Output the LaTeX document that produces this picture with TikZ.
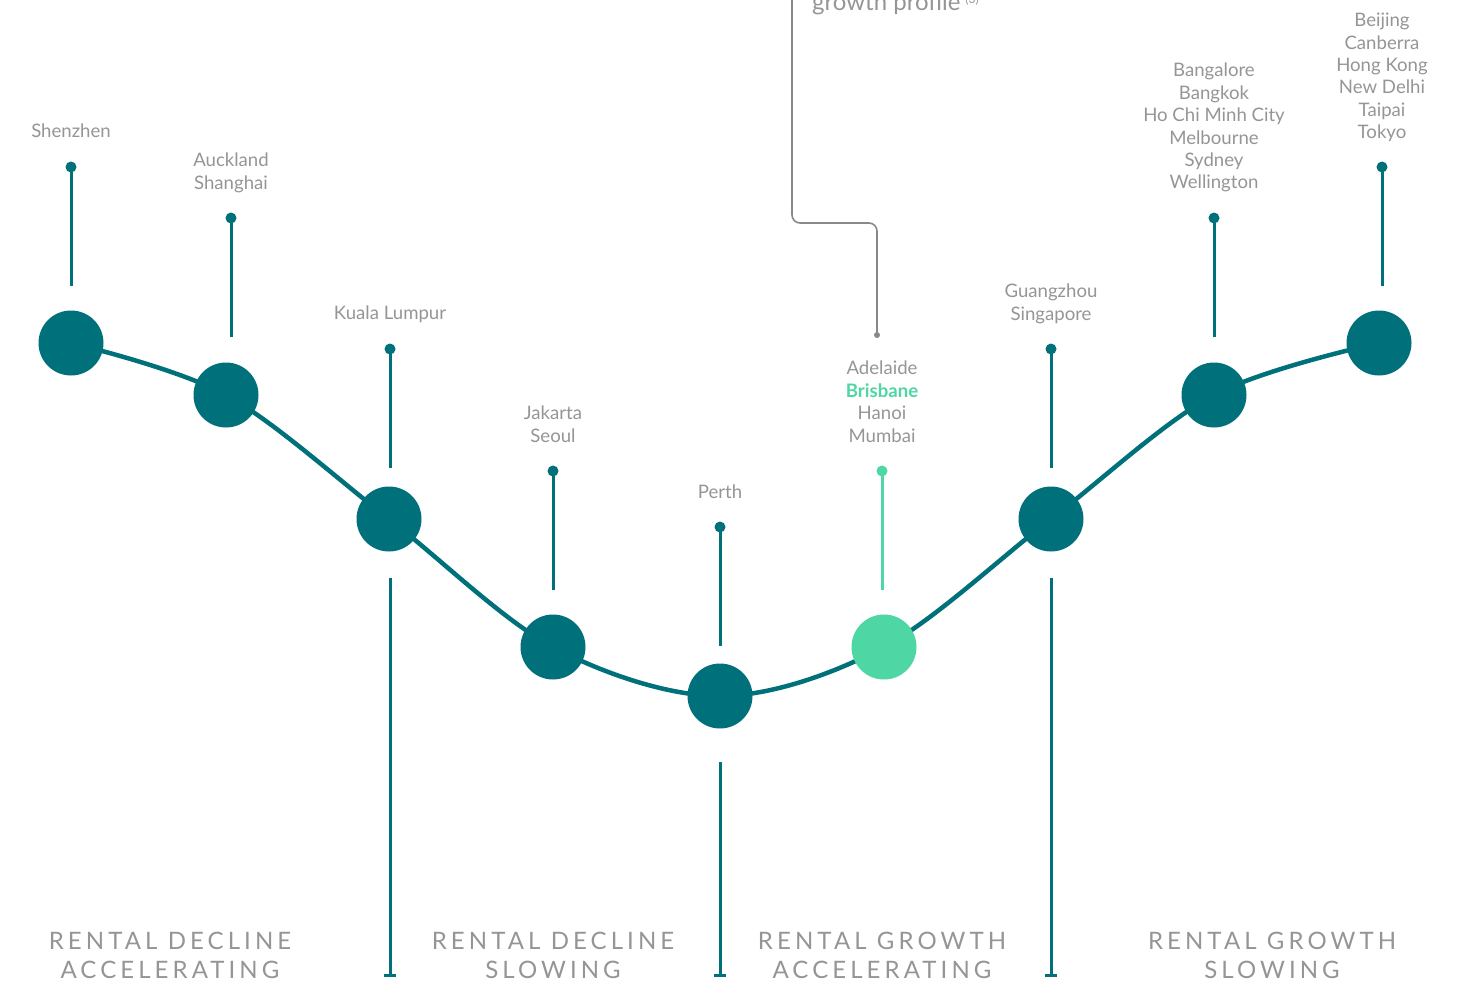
\documentclass[tikz,border=0pt]{standalone}
\usepackage{fontspec}
\setmainfont{Lato}
\definecolor{teal}{HTML}{00707A}
\definecolor{mint}{HTML}{4ED6A5}
\definecolor{txtgray}{HTML}{959595}
\definecolor{leadgray}{HTML}{8C8789}
\begin{document}
\begin{tikzpicture}[x=1pt,y=-1pt,
  bigdot/.style={circle,fill=teal,minimum size=65pt,inner sep=0pt},
  minthub/.style={bigdot,fill=mint},
  pin/.style={circle,fill=teal,minimum size=11pt,inner sep=0pt},
  mintpin/.style={pin,fill=mint},
  stem/.style={teal,line width=3pt},
  mintstem/.style={mint,line width=3pt},
  curve/.style={teal,line width=4.5pt},
  city/.style={anchor=north,inner sep=0pt,align=center,text=txtgray,
    font={\fontsize{18.6}{22.4}\selectfont}},
  phase/.style={anchor=north,inner sep=0pt,align=center,text=txtgray,
    font={\addfontfeature{LetterSpace=17}\fontsize{24}{29}\selectfont}},
  leader/.style={leadgray,line width=1.6pt,rounded corners=8pt},
]
\useasboundingbox (0,0) rectangle (1460,983);

% hubs along the clock curve
\coordinate (h1) at (71,343);
\coordinate (h2) at (226,395);
\coordinate (h3) at (389,519);
\coordinate (h4) at (553,647);
\coordinate (h5) at (720,696);
\coordinate (h6) at (884,647);
\coordinate (h7) at (1051,519);
\coordinate (h8) at (1214,395);
\coordinate (h9) at (1379,343);

\draw[curve] plot[smooth,tension=0.55] coordinates {(h1) (h2) (h3) (h4) (h5) (h6) (h7) (h8) (h9)};

\node[bigdot] (c1) at (h1) {};
\node[bigdot] (c2) at (h2) {};
\node[bigdot] (c3) at (h3) {};
\node[bigdot] (c4) at (h4) {};
\node[bigdot] (c5) at (h5) {};
\node[minthub] (c6) at (h6) {};
\node[bigdot] (c7) at (h7) {};
\node[bigdot] (c8) at (h8) {};
\node[bigdot] (c9) at (h9) {};

% pins above the hubs
\node[pin] (p1) at (71,167) {};
\node[pin] (p2) at (231,218) {};
\node[pin] (p3) at (390,349) {};
\node[pin] (p4) at (553,471) {};
\node[pin] (p5) at (720,527) {};
\node[mintpin] (p6) at (882,471) {};
\node[pin] (p7) at (1051,349) {};
\node[pin] (p8) at (1214,218) {};
\node[pin] (p9) at (1382,167) {};

\coordinate (e1) at (71,286);
\coordinate (e2) at (231,337);
\coordinate (e3) at (390,468);
\coordinate (e4) at (553,590);
\coordinate (e5) at (720,646);
\coordinate (e6) at (882,590);
\coordinate (e7) at (1051,468);
\coordinate (e8) at (1214,337);
\coordinate (e9) at (1382,286);

\draw[stem] (p1.center) -- (e1);
\draw[stem] (p2.center) -- (e2);
\draw[stem] (p3.center) -- (e3);
\draw[stem] (p4.center) -- (e4);
\draw[stem] (p5.center) -- (e5);
\draw[mintstem] (p6.center) -- (e6);
\draw[stem] (p7.center) -- (e7);
\draw[stem] (p8.center) -- (e8);
\draw[stem] (p9.center) -- (e9);

% city labels
\node[city] (t1) at (71,124) {Shenzhen};
\node[city] (t2) at (231,153) {Auckland\\Shanghai};
\node[city] (t3) at (390,306) {Kuala Lumpur};
\node[city] (t4) at (553,406) {Jakarta\\Seoul};
\node[city] (t5) at (720,485) {Perth};
\node[city] (t6) at (882,361) {Adelaide\\\textcolor{mint}{\bfseries Brisbane}\\Hanoi\\Mumbai};
\node[city] (t7) at (1051,284) {Guangzhou\\Singapore};
\node[city] (t8) at (1214,63) {Bangalore\\Bangkok\\Ho Chi Minh City\\Melbourne\\Sydney\\Wellington};
\node[city] (t9) at (1382,13) {Beijing\\Canberra\\Hong Kong\\New Delhi\\Taipai\\Tokyo};

% phase dividers
\coordinate (b1t) at (390,578);
\coordinate (b1b) at (390,975);
\coordinate (b2t) at (720,762);
\coordinate (b2b) at (720,975);
\coordinate (b3t) at (1051,578);
\coordinate (b3b) at (1051,975);
\draw[stem] (b1t) -- (b1b) ++(-6,0) -- ++(12,0);
\draw[stem] (b2t) -- (b2b) ++(-6,0) -- ++(12,0);
\draw[stem] (b3t) -- (b3b) ++(-6,0) -- ++(12,0);

% phase names
\node[phase] (ph1) at (170,932) {RENTAL DECLINE\\ACCELERATING};
\node[phase] (ph2) at (553,932) {RENTAL DECLINE\\SLOWING};
\node[phase] (ph3) at (882,932) {RENTAL GROWTH\\ACCELERATING};
\node[phase] (ph4) at (1272,932) {RENTAL GROWTH\\SLOWING};

% leader to the highlighted city
\node[anchor=base west,inner sep=0pt,text=txtgray,font={\fontsize{24}{28}\selectfont}]
  (gp) at (812,10) {growth profile\hspace{5pt}\raisebox{7pt}{\fontsize{12}{12}\selectfont(3)}};
\node[circle,fill=leadgray,minimum size=6pt,inner sep=0pt] (ld) at (877,335) {};
\coordinate (lt) at (792,-10);
\draw[leader] (lt) -- (792,223) -- (877,223) -- (ld.center);
\end{tikzpicture}
\end{document}
